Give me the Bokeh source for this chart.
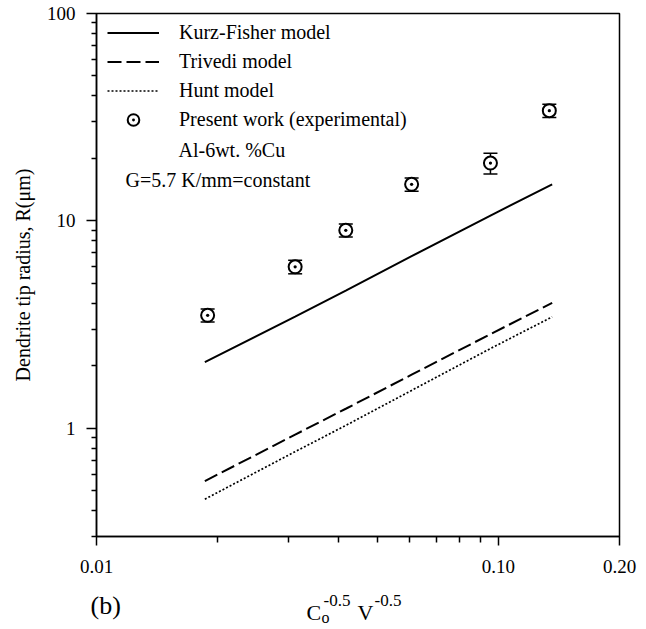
from bokeh.plotting import figure
from bokeh.layouts import column
from bokeh.models import (Range1d, FixedTicker, Whisker, ColumnDataSource, Legend,
                          LegendItem, Label, TeeHead)
from bokeh.embed import file_html
from bokeh.resources import INLINE

# ---------------- data ----------------
x_exp = [0.0189, 0.0312, 0.0417, 0.0608, 0.0955, 0.1338]
r_exp = [3.5, 6.0, 9.0, 15.0, 19.0, 34.0]
r_err = [0.25, 0.45, 0.65, 1.1, 2.2, 2.5]

x_model = [0.0186, 0.0312, 0.0417, 0.0608, 0.0955, 0.136]
r_kurz_fisher = [2.08, 3.45, 4.6, 6.75, 10.6, 15.0]
r_trivedi = [0.555, 0.93, 1.24, 1.81, 2.84, 4.02]
r_hunt = [0.454, 0.77, 1.03, 1.52, 2.42, 3.44]

x_ticks = [0.01, 0.1, 0.2]
x_tick_labels = ["0.01", "0.10", "0.20"]
x_minor = [0.02, 0.03, 0.04, 0.05, 0.06, 0.07, 0.08, 0.09]
y_ticks = [1, 10, 100]
y_tick_labels = ["1", "10", "100"]
y_minor = [0.3, 0.4, 0.5, 0.6, 0.7, 0.8, 0.9,
           2, 3, 4, 5, 6, 7, 8, 9,
           20, 30, 40, 50, 60, 70, 80, 90]

legend_labels = ["Kurz-Fisher model", "Trivedi model", "Hunt model",
                 "Present work (experimental)"]
note_alloy = "Al-6wt. %Cu"
note_grad = "G=5.7 K/mm=constant"
y_title = "Dendrite tip radius, R(\u03bcm)"
x_title_parts = ["C", "o", "-0.5", "V", "-0.5"]
panel_tag = "(b)"

FONT = "Liberation Serif"
W = 644

# ---------------- main figure ----------------
p = figure(width=W, height=584, x_axis_type="log", y_axis_type="log",
           x_range=Range1d(0.01, 0.2), y_range=Range1d(0.3, 100),
           output_backend="svg", toolbar_location=None,
           min_border_left=96, min_border_right=25, min_border_top=13,
           min_border_bottom=48)
p.xgrid.visible = False
p.ygrid.visible = False
p.outline_line_color = "black"
p.outline_line_width = 1.5
p.outline_line_alpha = 1.0
p.background_fill_color = "white"
p.border_fill_color = "white"

p.xaxis.ticker = FixedTicker(ticks=x_ticks, minor_ticks=x_minor)
p.yaxis.ticker = FixedTicker(ticks=y_ticks, minor_ticks=y_minor)
p.xaxis.major_label_overrides = dict(zip(x_ticks, x_tick_labels))
p.yaxis.major_label_overrides = dict(zip(y_ticks, y_tick_labels))

for ax in (p.xaxis[0], p.yaxis[0]):
    ax.axis_line_color = "black"
    ax.axis_line_width = 1.5
    ax.major_tick_line_color = "black"
    ax.major_tick_line_width = 1.5
    ax.minor_tick_line_color = "black"
    ax.minor_tick_line_width = 1.5
    ax.major_tick_in = 0
    ax.minor_tick_in = 0
    ax.major_label_text_font = FONT
    ax.major_label_text_font_size = "19px"
    ax.major_label_text_color = "black"

p.xaxis.major_tick_out = 9
p.xaxis.minor_tick_out = 6
p.xaxis.major_label_standoff = 14
p.yaxis.major_tick_out = 10
p.yaxis.minor_tick_out = 5
p.yaxis.major_label_standoff = 11

p.yaxis.axis_label = y_title
p.yaxis.axis_label_text_font = FONT
p.yaxis.axis_label_text_font_size = "20px"
p.yaxis.axis_label_text_font_style = "normal"
p.yaxis.axis_label_text_color = "black"
p.yaxis.axis_label_standoff = 10

# ---------------- data glyphs ----------------
r1 = p.line(x_model, r_kurz_fisher, line_color="black", line_width=2)
r2 = p.line(x_model, r_trivedi, line_color="black", line_width=2, line_dash="14 5")
r3 = p.line(x_model, r_hunt, line_color="black", line_width=1.7, line_dash="2 2")

src = ColumnDataSource(dict(
    x=x_exp,
    upper=[r + e for r, e in zip(r_exp, r_err)],
    lower=[r - e for r, e in zip(r_exp, r_err)],
))
w = Whisker(base="x", upper="upper", lower="lower", source=src, dimension="height",
            line_color="black", line_width=1.5, level="underlay",
            upper_head=TeeHead(size=14, line_width=1.5, line_color="black"),
            lower_head=TeeHead(size=14, line_width=1.5, line_color="black"))
p.add_layout(w)

r4 = p.scatter(x_exp, r_exp, marker="circle_dot", size=13, line_width=2,
               line_color="black", fill_color="white")

legend = Legend(items=[LegendItem(label=legend_labels[0], renderers=[r1]),
                       LegendItem(label=legend_labels[1], renderers=[r2]),
                       LegendItem(label=legend_labels[2], renderers=[r3]),
                       LegendItem(label=legend_labels[3], renderers=[r4])],
                location=(11, 402), margin=0, padding=8, spacing=0,
                glyph_width=52, glyph_height=29, label_height=29,
                label_standoff=20, label_text_font=FONT,
                label_text_font_size="20px", label_text_color="black",
                border_line_color=None, background_fill_alpha=0)
p.add_layout(legend)


def add_text(fig, txt, x, y, size, baseline="alphabetic"):
    fig.add_layout(Label(x=x, y=y, x_units="screen", y_units="screen", text=txt,
                         text_font=FONT, text_font_size=size, text_color="black",
                         text_baseline=baseline, text_align="left"))


add_text(p, note_alloy, 82, 387, "20px", "middle")
add_text(p, note_grad, 29, 357, "20px", "middle")

# ---------------- strip below for x title and panel tag ----------------
q = figure(width=W, height=45, x_range=Range1d(0, 1), y_range=Range1d(0, 1),
           output_backend="svg", toolbar_location=None,
           x_axis_location=None, y_axis_location=None, min_border=0)
if "frame_align" in q.properties():
    q.frame_align = False
q.xgrid.visible = False
q.ygrid.visible = False
q.outline_line_color = None
q.background_fill_color = "white"
q.border_fill_color = "white"

add_text(q, panel_tag, 90, 24, "26px", "middle")
add_text(q, x_title_parts[0], 306, 17, "22px")
add_text(q, x_title_parts[1], 321, 12, "16px")
add_text(q, x_title_parts[2], 323, 29, "17px")
add_text(q, x_title_parts[3], 357, 17, "22px")
add_text(q, x_title_parts[4], 374, 29, "17px")

open("out.html", "w").write(file_html(column(p, q), INLINE))
